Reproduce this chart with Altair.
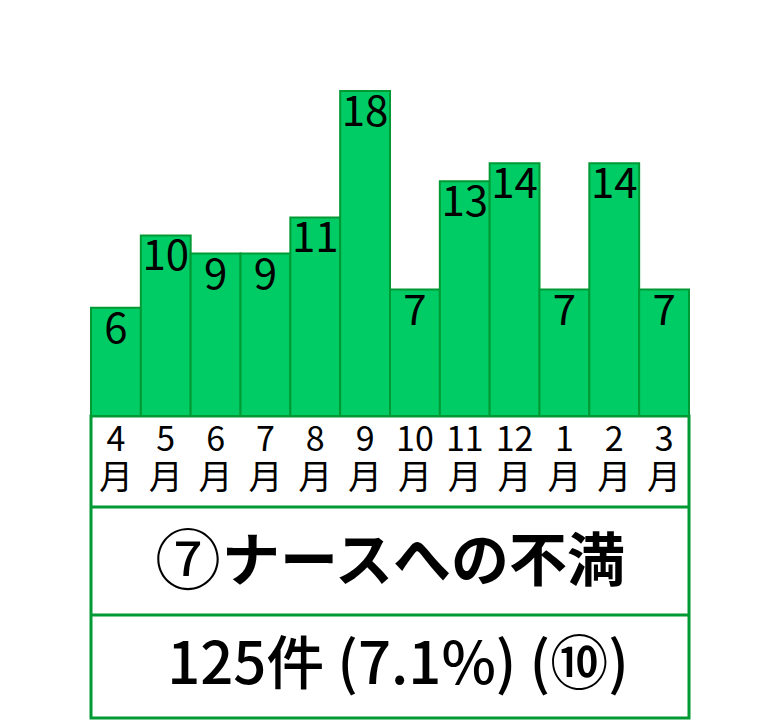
import altair as alt
import pandas as pd

months = ["4", "5", "6", "7", "8", "9", "10", "11", "12", "1", "2", "3"]
counts = [6, 10, 9, 9, 11, 18, 7, 13, 14, 7, 14, 7]
title_mark = "⑦"
title_text = "ナースへの不満"
total_text = "125件 (7.1%) (⑩)"

FONT = "Noto Sans CJK JP"
FILL = "#00CC66"
EDGE = "#009933"

df = pd.DataFrame({"month": months, "count": counts})
df["label"] = df["month"] + "\n月"

W, H = 598, 710

x = alt.X("month:N", sort=months, axis=None,
          scale=alt.Scale(paddingInner=0, paddingOuter=0))
y = alt.Y("count:Q", axis=None,
          scale=alt.Scale(domain=[0, 18], range=[408, 83], nice=False, zero=True))

base = alt.Chart(df)

bars = base.mark_bar(fill=FILL, stroke=EDGE, strokeWidth=2).encode(x=x, y=y)

values = base.mark_text(font=FONT, fontSize=42, baseline="top", dy=2,
                        color="black").encode(x=x, y=y, text="count:Q")

one = pd.DataFrame({"k": [0]})

box = alt.Chart(one).mark_rect(
    fill="white", stroke=EDGE, strokeWidth=3
).encode(x=alt.value(0), x2=alt.value(W), y=alt.value(408), y2=alt.value(710))

div1 = alt.Chart(one).mark_rule(
    stroke=EDGE, strokeWidth=3
).encode(x=alt.value(0), x2=alt.value(W), y=alt.value(499))

div2 = alt.Chart(one).mark_rule(
    stroke=EDGE, strokeWidth=3
).encode(x=alt.value(0), x2=alt.value(W), y=alt.value(607))

month_labels = base.mark_text(font=FONT, fontSize=34, baseline="top",
                              lineBreak="\n", lineHeight=38, color="black"
                              ).encode(x=x, y=alt.value(416), text="label:N")

title_a = alt.Chart(pd.DataFrame({"t": [title_mark]})).mark_text(
    font=FONT, fontSize=66, fontWeight="normal", baseline="middle",
    align="center", color="black"
).encode(x=alt.value(97), y=alt.value(556), text="t:N")

title_b = alt.Chart(pd.DataFrame({"t": [title_text]})).mark_text(
    font=FONT, fontSize=58, fontWeight="bold", baseline="middle",
    align="left", color="black"
).encode(x=alt.value(131), y=alt.value(556), text="t:N")

total = alt.Chart(pd.DataFrame({"t": [total_text]})).mark_text(
    font=FONT, fontSize=58, fontWeight=500, baseline="middle", color="black"
).encode(x=alt.value(W / 2 + 8), y=alt.value(659), text="t:N")

chart = alt.layer(box, bars, div1, div2, values, month_labels,
                  title_a, title_b, total).properties(
    width=W, height=H,
    padding={"left": 83, "top": 0, "right": 10, "bottom": 6},
    autosize=alt.AutoSizeParams(type="none"),
).configure_view(stroke=None)

chart.save("out.html", embed_options={"renderer": "svg", "actions": False})
